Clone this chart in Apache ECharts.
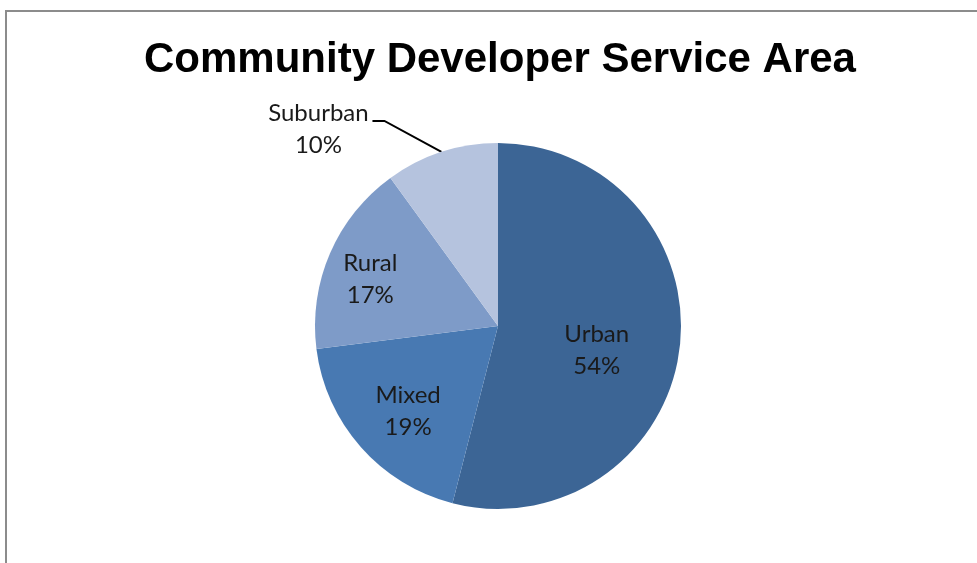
<!DOCTYPE html>
<html>
<head>
<meta charset="utf-8">
<script src="https://cdn.jsdelivr.net/npm/echarts@6/dist/echarts.min.js"></script>
<style>
html,body{margin:0;padding:0;background:#fff;}
#chart{width:977px;height:563px;}
</style>
</head>
<body>
<div id="chart"></div>
<script>
const categories = ['Urban', 'Mixed', 'Rural', 'Suburban'];
const values = [54, 19, 17, 10];
const colors = ['#3C6595', '#4879B2', '#7E9BC8', '#B5C3DE'];
const labelOffsets = [[5, 12], [-19, 23], [-41, -9], [0, 0]];

const chart = echarts.init(document.getElementById('chart'), null, {renderer: 'canvas'});

const data = categories.map((c, i) => {
  const item = {name: c, value: values[i], itemStyle: {color: colors[i]}};
  if (i < 3) {
    item.label = {position: 'inside', offset: labelOffsets[i]};
  } else {
    item.label = {position: 'outside'};
    item.labelLine = {show: true, length: 20, length2: 10};
  }
  return item;
});

chart.setOption({
  backgroundColor: '#ffffff',
  animation: false,
  title: {
    text: 'Community Developer Service Area',
    left: 139,
    top: 34,
    textStyle: {
      fontFamily: 'Liberation Sans',
      fontWeight: 'bold',
      fontSize: 42,
      color: '#000000'
    }
  },
  graphic: [{
    type: 'polyline',
    shape: {points: [[6, 563], [6, 11], [977, 11]]},
    style: {stroke: '#8c8c8c', lineWidth: 2, fill: null},
    silent: true
  }],
  series: [{
    type: 'pie',
    center: [498, 326],
    radius: 183,
    startAngle: 90,
    clockwise: true,
    data: data,
    itemStyle: {borderColor: '#ffffff', borderWidth: 0},
    label: {
      show: true,
      formatter: '{b}\n{d}%',
      fontFamily: 'Lato',
      fontSize: 24,
      lineHeight: 32,
      color: '#1a1a1a'
    },
    labelLine: {
      lineStyle: {color: '#000000', width: 2},
      smooth: false
    },
    labelLayout: function (params) {
      if (params.dataIndex !== 3) return {};
      const start = params.labelLinePoints[0];
      return {
        x: start[0] - 123,
        y: start[1] - 23,
        align: 'center',
        verticalAlign: 'middle',
        labelLinePoints: [
          start,
          [start[0] - 57, start[1] - 31],
          [start[0] - 69, start[1] - 31]
        ]
      };
    }
  }]
});
</script>
</body>
</html>
